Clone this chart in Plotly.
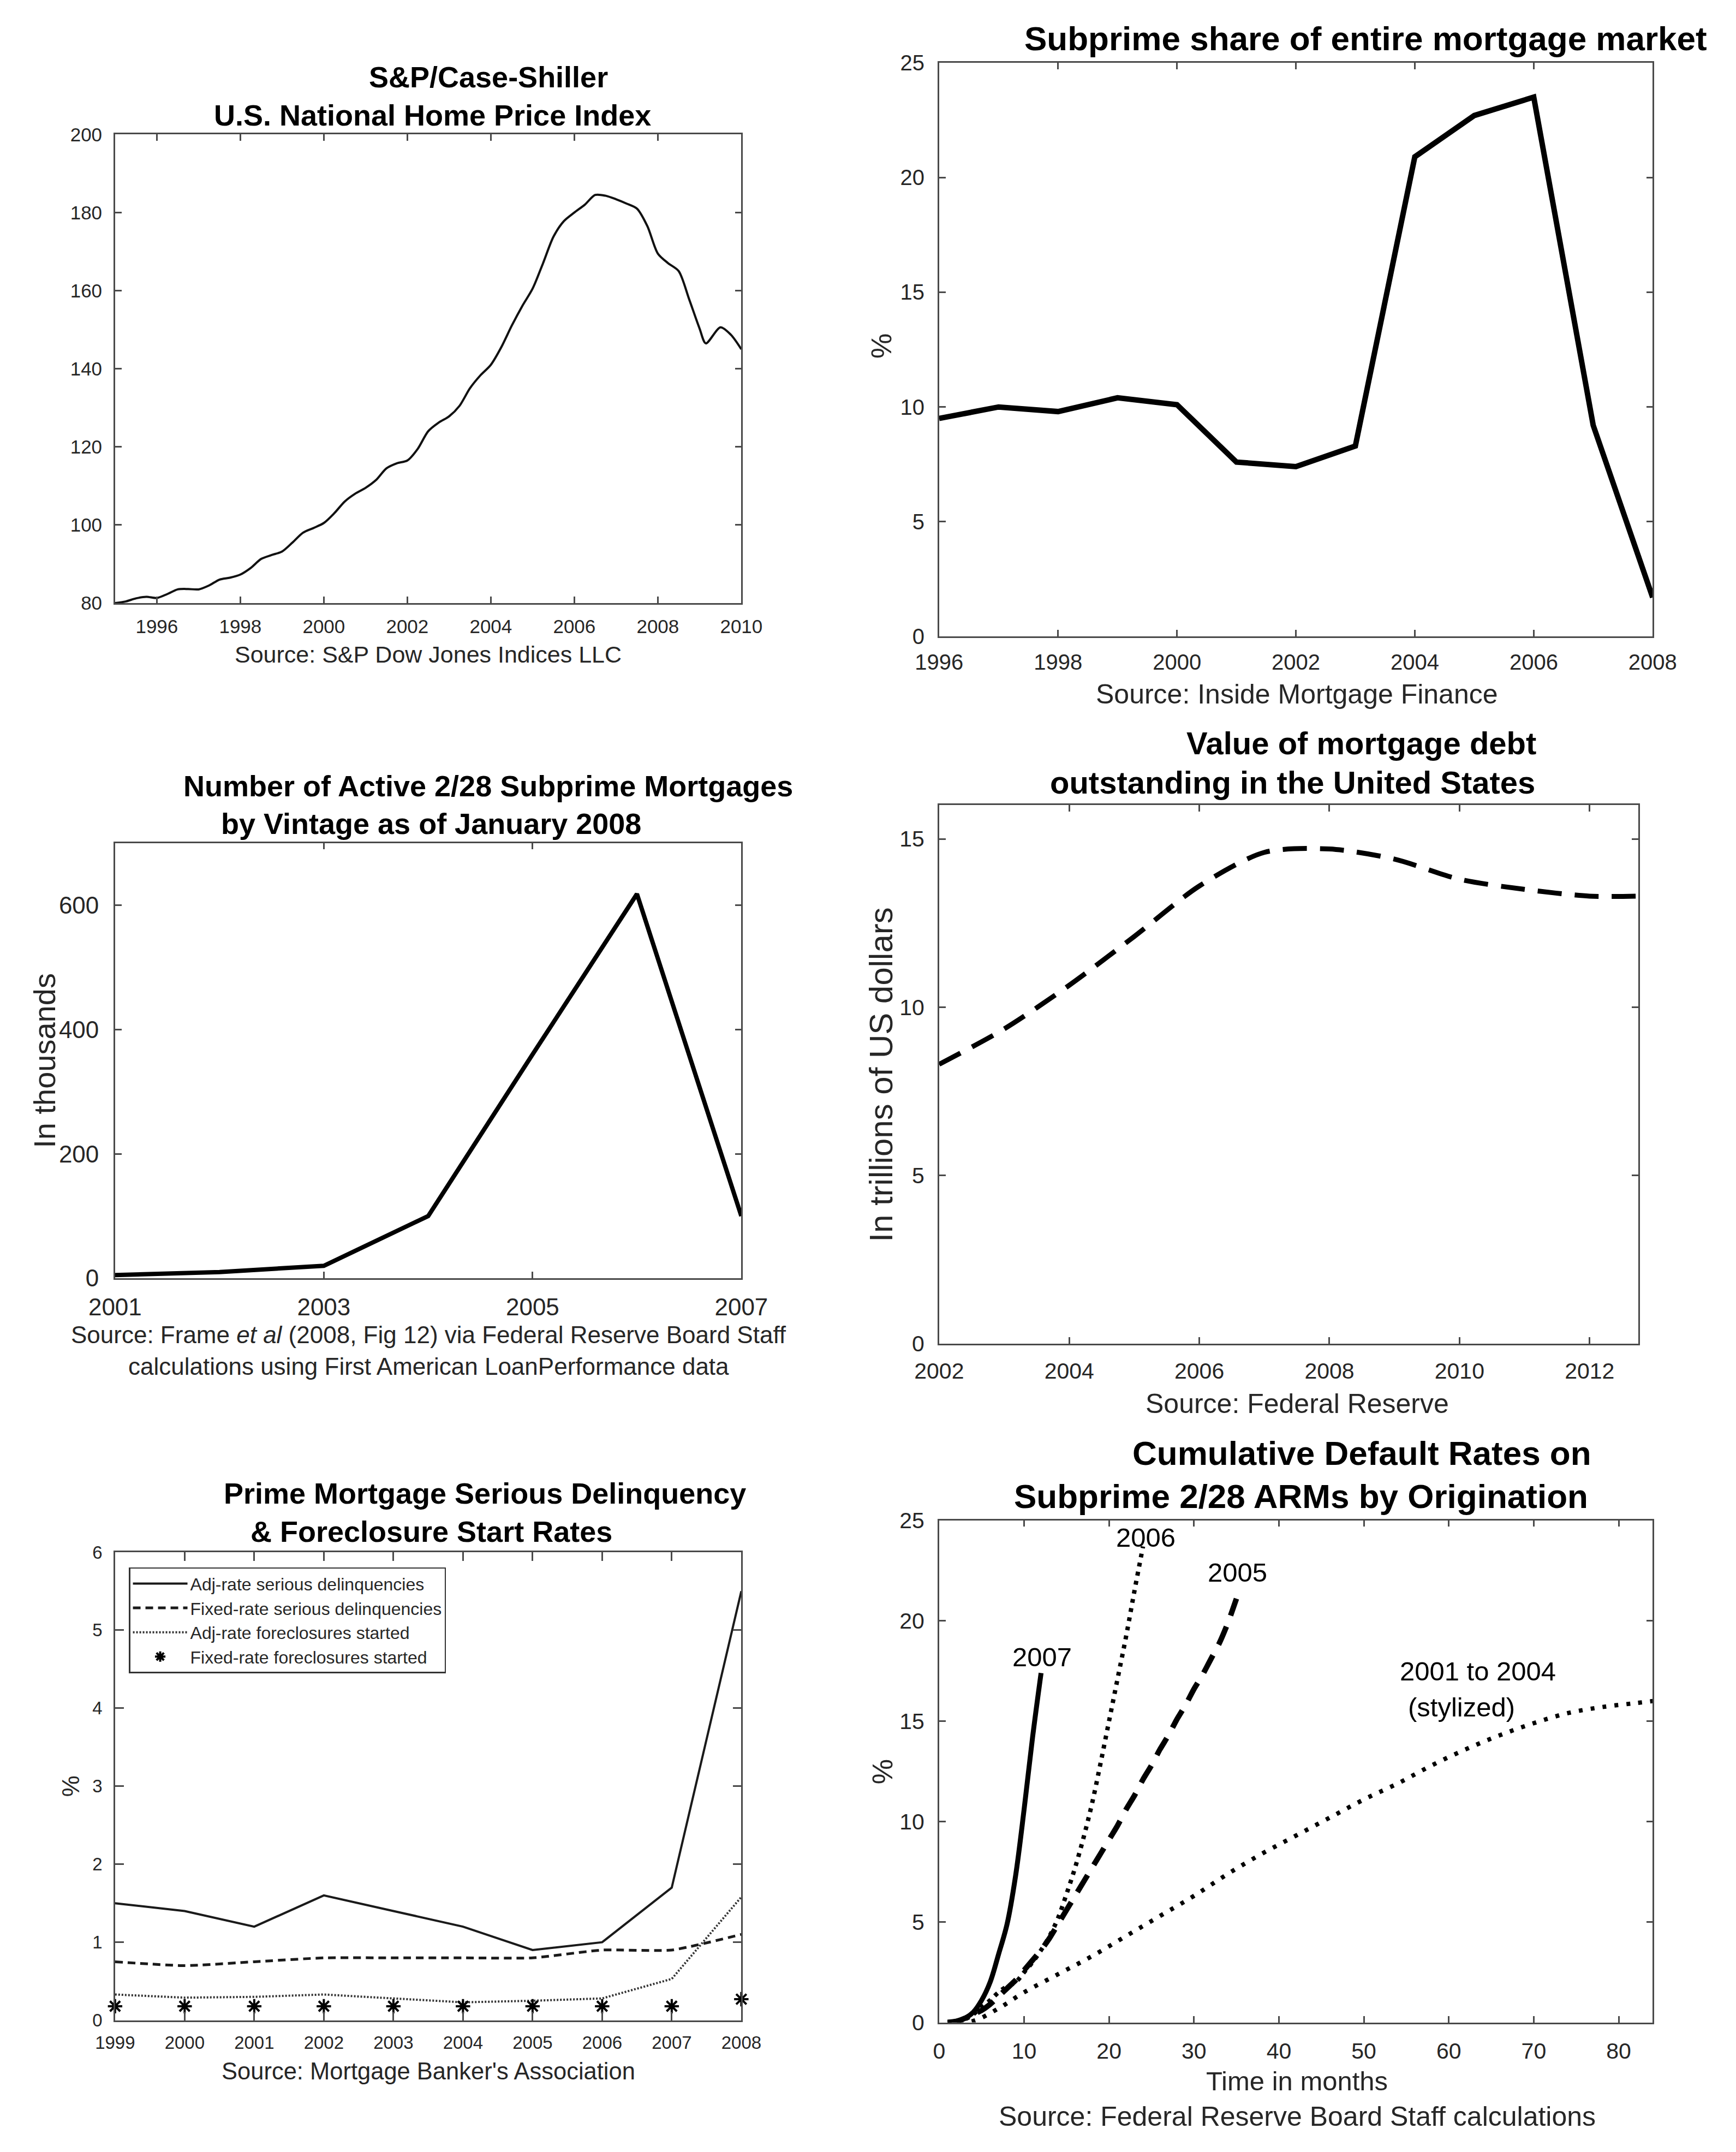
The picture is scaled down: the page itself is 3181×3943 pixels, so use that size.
import plotly.graph_objects as go

W, H = 3181, 3943
FONT = "Liberation Sans, Arial, Helvetica, sans-serif"
INK = "#262626"
AX = "#4a4a4a"

# ---------------- Panel 1: S&P/Case-Shiller ----------------
hpi_x = [1995.0, 1995.25, 1995.5, 1995.75, 1996.0, 1996.25, 1996.5, 1996.75,
         1997.0, 1997.25, 1997.5, 1997.75, 1998.0, 1998.25, 1998.5, 1998.75,
         1999.0, 1999.25, 1999.5, 1999.75, 2000.0, 2000.25, 2000.5, 2000.75,
         2001.0, 2001.25, 2001.5, 2001.75, 2002.0, 2002.25, 2002.5, 2002.75,
         2003.0, 2003.25, 2003.5, 2003.75, 2004.0, 2004.25, 2004.5, 2004.75,
         2005.0, 2005.25, 2005.5, 2005.75, 2006.0, 2006.25, 2006.5, 2006.75,
         2007.0, 2007.25, 2007.5, 2007.75, 2008.0, 2008.25, 2008.5, 2008.75,
         2009.0, 2009.15, 2009.5, 2009.75, 2010.0]
hpi_val = [80.0, 80.4, 81.2, 81.6, 81.3, 82.3, 83.5, 83.6,
           83.5, 84.5, 86.0, 86.5, 87.3, 89.0, 91.3, 92.3,
           93.2, 95.5, 98.0, 99.2, 100.5, 103.0, 106.0, 108.0,
           109.5, 111.5, 114.5, 115.8, 116.5, 119.5, 124.0, 126.2,
           127.8, 130.5, 135.0, 138.3, 141.0, 145.5, 151.0, 156.0,
           160.5, 167.0, 173.8, 177.8, 180.0, 182.0, 184.5, 184.3,
           183.4, 182.3, 181.0, 176.5, 169.5, 167.0, 165.0, 157.8,
           150.3, 146.5, 150.6, 148.7, 145.0]
hpi_ticks = [1996, 1998, 2000, 2002, 2004, 2006, 2008, 2010]

# ---------------- Panel 2: Subprime share ----------------
share_year = [1996, 1997, 1998, 1999, 2000, 2001, 2002, 2003, 2004, 2005, 2006, 2007, 2008]
share_pct = [9.5, 10.0, 9.8, 10.4, 10.1, 7.6, 7.4, 8.3, 20.9, 22.7, 23.5, 9.2, 1.7]

# ---------------- Panel 3: Active 2/28 mortgages ----------------
vintage_year = [2001, 2002, 2003, 2004, 2005, 2006, 2007]
vintage_thous = [5, 10, 20, 100, 360, 618, 100]

# ---------------- Panel 4: Mortgage debt outstanding ----------------
debt_year = [2002, 2003, 2004, 2005, 2006, 2007, 2008, 2009, 2010, 2011, 2012, 2012.75]
debt_tril = [8.3, 9.35, 10.65, 12.1, 13.6, 14.6, 14.7, 14.4, 13.8, 13.5, 13.3, 13.3]

# ---------------- Panel 5: Prime delinquency ----------------
mba_year = [1999, 2000, 2001, 2002, 2003, 2004, 2005, 2006, 2007, 2008]
adj_delinq = [1.5, 1.4, 1.2, 1.6, 1.4, 1.2, 0.9, 1.0, 1.7, 5.5]
fixed_delinq = [0.75, 0.7, 0.75, 0.8, 0.8, 0.8, 0.8, 0.9, 0.9, 1.1]
adj_fc = [0.33, 0.29, 0.3, 0.33, 0.28, 0.23, 0.25, 0.28, 0.53, 1.58]
fixed_fc = [0.18, 0.18, 0.18, 0.18, 0.18, 0.18, 0.18, 0.18, 0.18, 0.27]
mba_names = ["Adj-rate serious delinquencies", "Fixed-rate serious delinquencies",
             "Adj-rate foreclosures started", "Fixed-rate foreclosures started"]

# ---------------- Panel 6: Cumulative default rates ----------------
m2007 = [1, 2, 3, 4, 5, 6, 7, 8, 9, 10, 11, 12]
d2007 = [0, 0.05, 0.2, 0.5, 1.1, 2.0, 3.4, 4.9, 7.3, 10.6, 14.2, 17.4]
m2006 = [1, 2, 3, 4, 5, 6, 7, 8, 9, 10, 11, 12, 13, 14, 15, 16, 17, 18, 19, 20, 21, 22, 23, 24]
d2006 = [0, 0.05, 0.15, 0.4, 0.75, 1.1, 1.5, 1.8, 2.0, 2.5, 3.0, 3.6, 4.3, 5.2, 6.4,
         7.7, 9.2, 10.9, 12.9, 15.0, 17.1, 19.2, 21.5, 23.7]
m2005 = [1, 2, 3, 4, 5, 6, 7, 8, 9, 10, 11, 12, 13, 14, 15, 16, 17, 18, 19, 20, 21, 22,
         23, 24, 25, 26, 27, 28, 29, 30, 31, 32, 33, 34, 35]
d2005 = [0, 0.05, 0.2, 0.4, 0.6, 0.9, 1.3, 1.7, 2.1, 2.6, 3.1, 3.6, 4.2, 4.9, 5.6, 6.3,
         7.0, 7.7, 8.4, 9.1, 9.8, 10.6, 11.3, 12.1, 12.8, 13.6, 14.3, 15.1, 15.8, 16.6,
         17.3, 18.1, 18.9, 19.9, 21.1]
m0104 = [1, 4, 7, 10, 14, 18, 22, 26, 30, 34, 38, 42, 46, 50, 54, 58, 62, 66, 70, 74, 78, 82, 84]
d0104 = [0, 0.07, 0.7, 1.5, 2.4, 3.3, 4.3, 5.3, 6.3, 7.4, 8.4, 9.3, 10.2, 11.1, 11.9,
         12.8, 13.6, 14.3, 14.9, 15.4, 15.7, 15.9, 16.0]
vintage_labels = ["2007", "2006", "2005", "2001 to 2004", "(stylized)"]


def dx(a, b):
    return [a / W, b / W]


def dy(top, bottom):
    return [1 - bottom / H, 1 - top / H]


def axis(domain, anchor, rng, tickvals, size, ticklen=12, standoff=12):
    return dict(domain=domain, anchor=anchor, range=rng, tickmode="array", tickvals=tickvals,
                showline=True, linecolor=AX, linewidth=2.5, mirror="ticks",
                ticks="inside", ticklen=ticklen, tickwidth=2.5, tickcolor=AX,
                showgrid=False, zeroline=False, ticklabelstandoff=standoff,
                tickfont=dict(family=FONT, size=size, color=INK))


fig = go.Figure()

# Panel 1
fig.add_trace(go.Scatter(x=hpi_x, y=hpi_val, mode="lines",
                         line=dict(color="#111", width=4, shape="spline", smoothing=0.8),
                         xaxis="x", yaxis="y", showlegend=False))
# Panel 2
fig.add_trace(go.Scatter(x=share_year, y=share_pct, mode="lines", line=dict(color="black", width=10),
                         xaxis="x2", yaxis="y2", showlegend=False))
# Panel 3
fig.add_trace(go.Scatter(x=vintage_year, y=vintage_thous, mode="lines", line=dict(color="black", width=8),
                         xaxis="x3", yaxis="y3", showlegend=False))
# Panel 4
fig.add_trace(go.Scatter(x=debt_year, y=debt_tril, mode="lines",
                         line=dict(color="black", width=9, dash="44px,24px", shape="spline", smoothing=0.8),
                         xaxis="x4", yaxis="y4", showlegend=False))
# Panel 5
fig.add_trace(go.Scatter(x=mba_year, y=adj_delinq, mode="lines", name=mba_names[0],
                         line=dict(color="#1a1a1a", width=4), xaxis="x5", yaxis="y5"))
fig.add_trace(go.Scatter(x=mba_year, y=fixed_delinq, mode="lines", name=mba_names[1],
                         line=dict(color="#1a1a1a", width=5, dash="14px,9px", shape="spline", smoothing=0.5),
                         xaxis="x5", yaxis="y5"))
fig.add_trace(go.Scatter(x=mba_year, y=adj_fc, mode="lines", name=mba_names[2],
                         line=dict(color="#333", width=4, dash="3px,3px"), xaxis="x5", yaxis="y5"))
fig.add_trace(go.Scatter(x=mba_year, y=fixed_fc, mode="markers", name=mba_names[3],
                         marker=dict(symbol="asterisk-open", size=22, color="black",
                                     line=dict(color="black", width=4)),
                         xaxis="x5", yaxis="y5", cliponaxis=False))
# Panel 6
fig.add_trace(go.Scatter(x=m2007, y=d2007, mode="lines", line=dict(color="black", width=9, shape="spline"),
                         xaxis="x6", yaxis="y6", showlegend=False))
fig.add_trace(go.Scatter(x=m2006, y=d2006, mode="lines",
                         line=dict(color="black", width=8, dash="7px,10px", shape="spline"),
                         xaxis="x6", yaxis="y6", showlegend=False))
fig.add_trace(go.Scatter(x=m2005, y=d2005, mode="lines",
                         line=dict(color="black", width=10, dash="36px,22px", shape="spline", smoothing=0.6),
                         xaxis="x6", yaxis="y6", showlegend=False))
fig.add_trace(go.Scatter(x=m0104, y=d0104, mode="lines",
                         line=dict(color="black", width=8, dash="7px,15px", shape="spline"),
                         xaxis="x6", yaxis="y6", showlegend=False))

annotations = []


def ann(text, x, y, size, bold=False, angle=0, color=INK):
    annotations.append(dict(text=("<b>%s</b>" % text) if bold else text, x=x / W, y=1 - y / H,
                            xref="paper", yref="paper", xanchor="center", yanchor="middle",
                            showarrow=False, textangle=angle,
                            font=dict(family=FONT, size=size, color=color)))


# Titles
ann("S&P/Case-Shiller", 873, 119, 54, bold=True, color="black")
ann("U.S. National Home Price Index", 767, 190, 54, bold=True, color="black")
ann("Subprime share of entire mortgage market", 2531, 48, 62, bold=True, color="black")
ann("Number of Active 2/28 Subprime Mortgages", 872, 1434, 54, bold=True, color="black")
ann("by Vintage as of January 2008", 765, 1504, 54, bold=True, color="black")
ann("Value of mortgage debt", 2523, 1355, 58, bold=True, color="black")
ann("outstanding in the United States", 2393, 1428, 58, bold=True, color="black")
ann("Prime Mortgage Serious Delinquency", 866, 2746, 54, bold=True, color="black")
ann("& Foreclosure Start Rates", 765, 2817, 54, bold=True, color="black")
ann("Cumulative Default Rates on", 2524, 2671, 62, bold=True, color="black")
ann("Subprime 2/28 ARMs by Origination", 2409, 2751, 62, bold=True, color="black")

# Sources / axis labels
ann("Source: S&P Dow Jones Indices LLC", 759, 1190, 43)
ann("Source: Inside Mortgage Finance", 2401, 1264, 50)
ann("Source: Frame <i>et al</i> (2008, Fig 12) via Federal Reserve Board Staff", 760, 2452, 44)
ann("calculations using First American LoanPerformance data", 760, 2510, 44)
ann("Source: Federal Reserve", 2402, 2580, 50)
ann("Source: Mortgage Banker's Association", 759, 3818, 43.5)
ann("Time in months", 2402, 3836, 49)
ann("Source: Federal Reserve Board Staff calculations", 2402, 3901, 50)

ann("%", 1615, 618, 52, angle=-90)
ann("In thousands", 34, 1943, 56, angle=-90)
ann("In trillions of US dollars", 1615, 1969, 60, angle=-90)
ann("%", 83, 3289, 44, angle=-90)
ann("%", 1618, 3262, 52, angle=-90)

# Panel 6 curve labels (data coords)
lab_pos = [(12.1, 18.2), (24.3, 24.15), (35.1, 22.4), (63.4, 17.5), (61.5, 15.7)]
for t, (lx, ly) in zip(vintage_labels, lab_pos):
    annotations.append(dict(text=t, x=lx, y=ly, xref="x6", yref="y6", showarrow=False,
                            xanchor="center", yanchor="middle",
                            font=dict(family=FONT, size=49, color="black")))

fig.update_layout(
    width=W, height=H, margin=dict(l=0, r=0, t=0, b=0),
    paper_bgcolor="white", plot_bgcolor="white",
    font=dict(family=FONT, color=INK),
    xaxis=axis(dx(167, 1351), "y", [1995, 2010], hpi_ticks, 35, standoff=10),
    yaxis=axis(dy(226, 1095), "x", [80, 200], [80, 100, 120, 140, 160, 180, 200], 35, standoff=14),
    xaxis2=axis(dx(1725, 3074), "y2", [1996, 2008], [1996, 1998, 2000, 2002, 2004, 2006, 2008], 40, standoff=10),
    yaxis2=axis(dy(93, 1157), "x2", [0, 25], [0, 5, 10, 15, 20, 25], 40, standoff=16),
    xaxis3=axis(dx(167, 1351), "y3", [2001, 2007], [2001, 2003, 2005, 2007], 44, standoff=12),
    yaxis3=axis(dy(1540, 2347), "x3", [0, 700], [0, 200, 400, 600], 44, standoff=18),
    xaxis4=axis(dx(1725, 3047), "y4", [2002, 2012.75], [2002, 2004, 2006, 2008, 2010, 2012], 41, standoff=12),
    yaxis4=axis(dy(1470, 2468), "x4", [0, 16], [0, 5, 10, 15], 41, standoff=16),
    xaxis5=axis(dx(167, 1351), "y5", [1999, 2008], mba_year, 33, ticklen=16, standoff=10),
    yaxis5=axis(dy(2855, 3723), "x5", [0, 6], [0, 1, 2, 3, 4, 5, 6], 33, ticklen=16, standoff=14),
    xaxis6=axis(dx(1725, 3074), "y6", [0, 84], [0, 10, 20, 30, 40, 50, 60, 70, 80], 41, standoff=14),
    yaxis6=axis(dy(2796, 3727), "x6", [0, 25], [0, 5, 10, 15, 20, 25], 41, standoff=16),
    annotations=annotations,
    showlegend=True,
    legend=dict(x=193 / W, y=1 - 2883 / H, xanchor="left", yanchor="top",
                bgcolor="white", bordercolor="#333", borderwidth=2.5,
                font=dict(family=FONT, size=32, color=INK),
                itemwidth=100, tracegroupgap=0),
)

fig.write_html("out.html", config={"displayModeBar": False},
               post_script="document.body.style.margin='0';document.body.style.overflow='hidden';")
